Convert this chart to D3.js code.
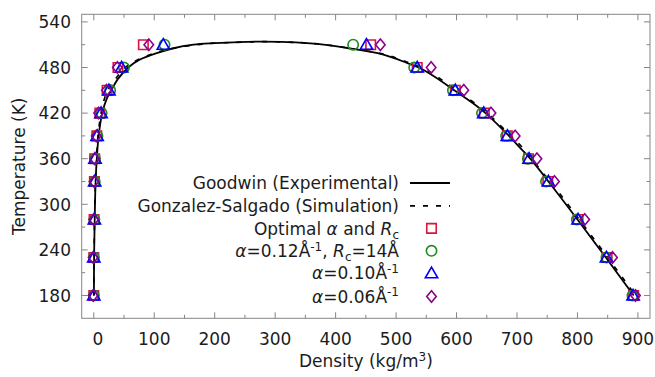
<!DOCTYPE html>
<html>
<head>
<meta charset="utf-8">
<script src="https://cdn.jsdelivr.net/npm/d3@7"></script>
<style>
  html, body { margin: 0; padding: 0; background: #fff; }
  svg { display: block; font-family: "DejaVu Sans", sans-serif; }
</style>
</head>
<body>
<svg id="chart" width="655" height="377"></svg>
<script>
// ---------------- data ----------------
const temps = [180, 230, 280, 330, 360, 390, 420, 450, 480, 510];

// marker series: vapor (low density) and liquid (high density) branches
const optimalVapor = [0, 0, 0.5, 1, 1.5, 5, 10, 22, 40, 82];
const optimalLiquid = [893, 849, 801, 751, 719, 684, 646, 598, 535, 458];
const a12Vapor = [0, 0, 1, 1.5, 2, 6, 13, 27, 50, 117];
const a12Liquid = [891, 848, 799, 748, 718, 682, 642, 594, 530, 429];
const a10Vapor = [0, 0, 1, 1.5, 2, 5.5, 12, 25, 46, 115];
const a10Liquid = [892, 848, 801, 752, 720, 684, 645, 598, 535, 451];
const a06Vapor = [-1, -1, 0, 0.5, 1.5, 4, 8, 21, 39, 91];
const a06Liquid = [896, 858, 812, 762, 733, 697, 657, 612, 558, 474];

// Goodwin experimental coexistence curve (density, temperature)
const expDensity = [0.2, 0.5, 1.5, 3, 5, 8, 14, 22, 29, 40, 57, 75, 108, 130, 165, 200, 240, 270,
  320, 369, 424, 479, 518, 545, 600, 645, 683, 708, 722, 752, 800, 847, 893];
const expTemp = [180, 230, 280, 330, 360, 390, 420, 440, 450, 465, 480, 490, 500, 505, 510, 512, 513.5, 514,
  513.5, 511, 505, 497, 486, 477, 448, 422, 393, 372, 360, 330, 280, 230, 180];

// Gonzalez-Salgado simulation curve (density, temperature)
const simDensity = [0.1, 0.4, 1.3, 2.8, 4.5, 7, 12, 18, 23, 36, 52, 72, 105, 130, 170, 200, 250, 275,
  320, 370, 426, 482, 522, 550, 575, 604, 648, 686, 712, 741, 755, 803, 850, 896];
const simTemp = [180, 230, 280, 330, 360, 390, 420, 440, 450, 465, 480, 490, 500, 505, 510, 512, 513.5, 514,
  513.5, 511, 505, 497, 486, 477, 464, 448, 422, 393, 372, 343, 330, 280, 230, 180];

const xTicks = [0, 100, 200, 300, 400, 500, 600, 700, 800, 900];
const xMinor = [50, 150, 250, 350, 450, 550, 650, 750, 850];
const yTicks = [180, 240, 300, 360, 420, 480, 540];
const yMinor = [210, 270, 330, 390, 450, 510];

const legendLabels = [
  "Goodwin (Experimental)",
  "Gonzalez-Salgado (Simulation)",
  "Optimal α and Rc",
  "α=0.12Å-1, Rc=14Å",
  "α=0.10Å-1",
  "α=0.06Å-1"
];

// ---------------- layout ----------------
const svg = d3.select("#chart");
const L = 81.7, R = 650, T = 14.3, B = 318.3;
const x = d3.scaleLinear().domain([-20, 920]).range([L, R]);
const y = d3.scaleLinear().domain([150, 550]).range([B, T]);

const frameColor = "#858585";
const textColor = "#1c1c1c";
const fs = 17;

// ticks (inward, mirrored on all sides)
const tickG = svg.append("g").attr("stroke", frameColor).attr("stroke-width", 1);
function vTicks(vals, len) {
  vals.forEach(v => {
    tickG.append("line").attr("x1", x(v)).attr("x2", x(v)).attr("y1", B).attr("y2", B - len);
    tickG.append("line").attr("x1", x(v)).attr("x2", x(v)).attr("y1", T).attr("y2", T + len);
  });
}
function hTicks(vals, len) {
  vals.forEach(v => {
    tickG.append("line").attr("y1", y(v)).attr("y2", y(v)).attr("x1", L).attr("x2", L + len);
    tickG.append("line").attr("y1", y(v)).attr("y2", y(v)).attr("x1", R).attr("x2", R - len);
  });
}
vTicks(xTicks, 6); vTicks(xMinor, 3.5);
hTicks(yTicks, 6); hTicks(yMinor, 3.5);

// tick labels
svg.append("g").selectAll("text").data(xTicks).join("text")
  .attr("x", d => x(d) + (d === 0 ? 4 : 0)).attr("y", 344.5)
  .attr("text-anchor", "middle").attr("font-size", fs).attr("fill", textColor)
  .text(d => d);
svg.append("g").selectAll("text").data(yTicks).join("text")
  .attr("x", 71).attr("y", d => y(d) + 6.2)
  .attr("text-anchor", "end").attr("font-size", fs).attr("fill", textColor)
  .text(d => d);

// axis labels
const xl = svg.append("text").attr("x", (L + R) / 2).attr("y", 367)
  .attr("text-anchor", "middle").attr("font-size", fs).attr("fill", textColor);
xl.append("tspan").text("Density (kg/m");
xl.append("tspan").attr("dy", -6.5).attr("font-size", 12).text("3");
xl.append("tspan").attr("dy", 6.5).text(")");

svg.append("text").attr("transform", `translate(25,${(T + B) / 2}) rotate(-90)`)
  .attr("text-anchor", "middle").attr("font-size", fs).attr("fill", textColor)
  .text("Temperature (K)");

// curves
const line = d3.line().x(d => x(d[0])).y(d => y(d[1])).curve(d3.curveCatmullRom.alpha(0.5));
svg.append("clipPath").attr("id", "clip").append("rect")
  .attr("x", L).attr("y", T).attr("width", R - L).attr("height", B - T);
const plot = svg.append("g").attr("clip-path", "url(#clip)");

plot.append("path").datum(simDensity.map((d, i) => [d, simTemp[i]]))
  .attr("d", line).attr("fill", "none").attr("stroke", "#000").attr("stroke-width", 1.7)
  .attr("stroke-dasharray", "5,8");
plot.append("path").datum(expDensity.map((d, i) => [d, expTemp[i]]))
  .attr("d", line).attr("fill", "none").attr("stroke", "#000").attr("stroke-width", 1.8);

// markers
const shapes = {
  square: d3.symbol().type(d3.symbolSquare).size(90),
  circle: d3.symbol().type(d3.symbolCircle).size(84),
  triangle: d3.symbol().type(d3.symbolTriangle).size(66)
};
function diamondPath(w, h) {
  return `M0,${-h / 2}L${w / 2},0L0,${h / 2}L${-w / 2},0Z`;
}
const series = [
  { name: "square", color: "#dc143c", vap: optimalVapor, liq: optimalLiquid },
  { name: "circle", color: "#1e8c1e", vap: a12Vapor, liq: a12Liquid },
  { name: "triangle", color: "#0000ff", vap: a10Vapor, liq: a10Liquid },
  { name: "diamond", color: "#8b008b", vap: a06Vapor, liq: a06Liquid }
];
function shapePath(name) {
  if (name === "diamond") return diamondPath(9.5, 11.5);
  return shapes[name]();
}
series.forEach(s => {
  const pts = temps.map((t, i) => [s.vap[i], t]).concat(temps.map((t, i) => [s.liq[i], t]));
  svg.append("g").selectAll("path").data(pts).join("path")
    .attr("transform", d => `translate(${x(d[0])},${y(d[1]) + (s.name === "triangle" ? 1 : 0)})`)
    .attr("d", shapePath(s.name))
    .attr("fill", "none").attr("stroke", s.color).attr("stroke-width", 1.6);
});

// frame
svg.append("rect").attr("x", L).attr("y", T).attr("width", R - L).attr("height", B - T)
  .attr("fill", "none").attr("stroke", frameColor).attr("stroke-width", 1);

// legend
const lgX = 399, rowY = [183, 205.8, 228.4, 250.8, 273.2, 296.5];
const lg = svg.append("g").attr("font-size", fs).attr("fill", textColor);
function addRow(i, parts) {
  const t = lg.append("text").attr("x", lgX).attr("y", rowY[i] + 6.2).attr("text-anchor", "end");
  let shift = 0;
  parts.forEach(p => {
    const ts = t.append("tspan").text(p.t);
    const target = p.sup ? -6.5 : p.sub ? 4 : 0;
    if (target !== shift) { ts.attr("dy", target - shift); shift = target; }
    if (p.sup || p.sub) ts.attr("font-size", 12);
    if (p.it) ts.attr("font-style", "italic");
  });
}
addRow(0, [{ t: legendLabels[0] }]);
addRow(1, [{ t: legendLabels[1] }]);
addRow(2, [{ t: "Optimal " }, { t: "α", it: true }, { t: " and " }, { t: "R", it: true }, { t: "c", sub: true }]);
addRow(3, [{ t: "α", it: true }, { t: "=0.12Å" }, { t: "-1", sup: true }, { t: ", " }, { t: "R", it: true }, { t: "c", sub: true }, { t: "=14Å" }]);
addRow(4, [{ t: "α", it: true }, { t: "=0.10Å" }, { t: "-1", sup: true }]);
addRow(5, [{ t: "α", it: true }, { t: "=0.06Å" }, { t: "-1", sup: true }]);

lg.append("line").attr("x1", 410).attr("x2", 450).attr("y1", rowY[0]).attr("y2", rowY[0])
  .attr("stroke", "#000").attr("stroke-width", 1.8);
lg.append("line").attr("x1", 410).attr("x2", 450).attr("y1", rowY[1]).attr("y2", rowY[1])
  .attr("stroke", "#000").attr("stroke-width", 1.7).attr("stroke-dasharray", "5,8");
series.forEach((s, i) => {
  lg.append("path")
    .attr("transform", `translate(431.5,${rowY[i + 2] + (s.name === "triangle" ? 1 : 0)})`)
    .attr("d", shapePath(s.name))
    .attr("fill", "none").attr("stroke", s.color).attr("stroke-width", 1.6);
});
</script>
</body>
</html>
